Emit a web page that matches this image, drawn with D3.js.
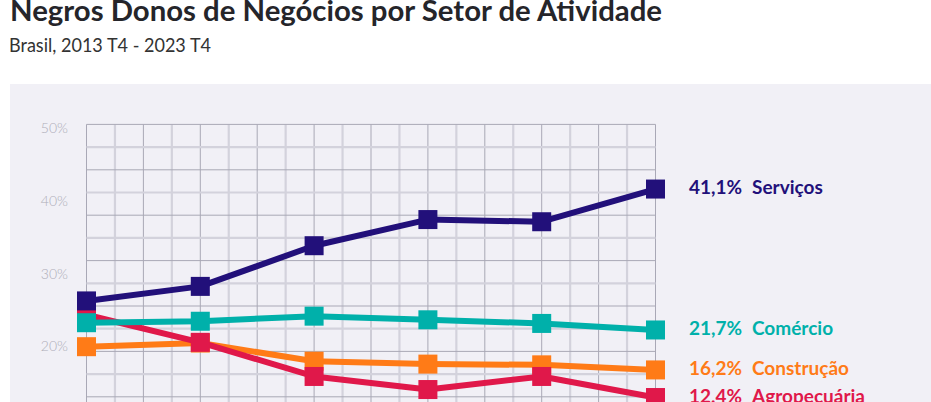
<!DOCTYPE html>
<html>
<head>
<meta charset="utf-8">
<script src="https://cdn.jsdelivr.net/npm/d3@7"></script>
<style>
  html, body { margin: 0; padding: 0; background: #ffffff; overflow: hidden; }
  svg { display: block; }
</style>
</head>
<body>
<svg id="chart" width="931" height="402"></svg>
<script>
// ---- data ----
const years = [2013, 2015, 2017, 2019, 2021, 2023];
const seriesNames = ["Construção", "Agropecuária", "Comércio", "Serviços"];
const servicos    = [25.7, 27.7, 33.3, 36.9, 36.6, 41.1];
const comercio    = [22.7, 22.9, 23.6, 23.1, 22.6, 21.7];
const construcao  = [19.4, 19.9, 17.4, 17.0, 16.9, 16.2];
const agropecuaria= [23.8, 20.0, 15.3, 13.5, 15.3, 12.4];
const yTickValues = [20, 30, 40, 50];
const colors = { "Serviços": "#22107a", "Comércio": "#00b0aa", "Construção": "#ff7b17", "Agropecuária": "#e0184a" };

const seriesValues = { "Serviços": servicos, "Comércio": comercio, "Construção": construcao, "Agropecuária": agropecuaria };

const svg = d3.select("#chart");
const W = 931, H = 402;

// title
svg.append("text").attr("x", 10).attr("y", 21)
  .attr("font-family", "Lato").attr("font-weight", 700).attr("font-size", 29)
  .attr("fill", "#25252a").attr("textLength", 652).attr("lengthAdjust", "spacingAndGlyphs")
  .text("Negros Donos de Negócios por Setor de Atividade");
svg.append("text").attr("x", 9).attr("y", 52)
  .attr("font-family", "Lato").attr("font-weight", 400).attr("font-size", 19.5)
  .attr("fill", "#333333").attr("textLength", 202).attr("lengthAdjust", "spacingAndGlyphs")
  .text("Brasil, 2013 T4 - 2023 T4");

// panel
svg.append("rect").attr("x", 10).attr("y", 84).attr("width", W - 10).attr("height", H - 84)
  .attr("fill", "#f1f0f6");

const x = d3.scaleLinear().domain([2013, 2023]).range([86.5, 655.5]);
const y = d3.scaleLinear().domain([0, 50]).range([487.6, 124.4]);

const grid = svg.append("g");
// vertical grid every half year
d3.range(0, 21).forEach(i => {
  const v = 2013 + i * 0.5;
  const dark = i % 2 === 0;
  grid.append("line")
    .attr("x1", x(v)).attr("x2", x(v))
    .attr("y1", y(50)).attr("y2", H)
    .attr("stroke", dark ? "#a9a8b6" : "#d3d2dc")
    .attr("stroke-width", dark ? 1 : 2.2);
});
// horizontal grid 16 rows
d3.range(0, 17).forEach(i => {
  const v = 50 - i * 50 / 16;
  if (y(v) > H) return;
  const dark = i % 2 === 0;
  grid.append("line")
    .attr("x1", x(2013)).attr("x2", x(2023))
    .attr("y1", y(v)).attr("y2", y(v))
    .attr("stroke", dark ? "#a9a8b6" : "#d3d2dc")
    .attr("stroke-width", dark ? 1 : 2.2);
});

// y axis labels
const yAxis = d3.axisLeft(y).tickValues(yTickValues).tickSize(0).tickPadding(0)
  .tickFormat(d => d + "%");
const ya = svg.append("g").attr("transform", "translate(68,4)").call(yAxis);
ya.select(".domain").remove();
ya.selectAll("text").attr("font-family", "Lato").attr("font-weight", 300)
  .attr("font-size", 14).attr("fill", "#aeaeb8");

// series
const line = d3.line().x((d, i) => x(years[i])).y(d => y(d));
const ms = 19;
seriesNames.forEach(name => {
  const vals = seriesValues[name];
  const g = svg.append("g");
  g.append("path").datum(vals).attr("d", line)
    .attr("fill", "none").attr("stroke", colors[name]).attr("stroke-width", 6)
    .attr("stroke-linejoin", "round");
  g.selectAll("rect").data(vals).join("rect")
    .attr("x", (d, i) => x(years[i]) - ms / 2)
    .attr("y", d => y(d) - ms / 2)
    .attr("width", ms).attr("height", ms)
    .attr("fill", colors[name]);
});

// end labels
const fmt = v => d3.format(".1f")(v).replace(".", ",") + "%";
["Serviços", "Comércio", "Construção", "Agropecuária"].forEach(name => {
  const vals = seriesValues[name];
  const last = vals[vals.length - 1];
  const t = svg.append("text")
    .attr("y", y(last) - 3)
    .attr("dominant-baseline", "central")
    .attr("font-family", "Lato").attr("font-weight", 700).attr("font-size", 19)
    .attr("fill", colors[name]);
  t.append("tspan").attr("x", 689).text(fmt(last));
  t.append("tspan").attr("x", 752).text(name);
});
</script>
</body>
</html>
